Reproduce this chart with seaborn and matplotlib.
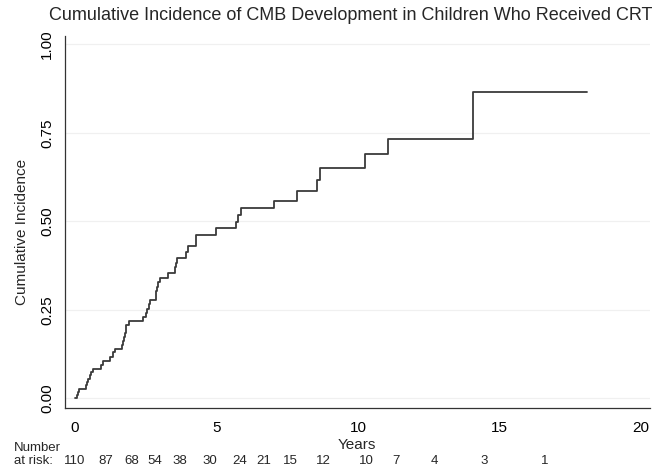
import matplotlib
matplotlib.use('Agg')
import matplotlib.pyplot as plt
import matplotlib.transforms as mtransforms
import numpy as np
import pandas as pd
import seaborn as sns

# event times (years) and cumulative incidence after each step
years = [0.0, 0.06, 0.10, 0.13, 0.39, 0.42, 0.47, 0.52, 0.58, 0.65, 0.92, 0.99,
         1.24, 1.35, 1.40, 1.65, 1.68, 1.72, 1.76, 1.79, 1.82, 1.92, 2.41, 2.50,
         2.55, 2.60, 2.64, 2.86, 2.88, 2.91, 2.95, 3.00, 3.30, 3.53, 3.56, 3.59,
         3.94, 4.00, 4.27, 4.98, 5.69, 5.77, 5.85, 7.05, 7.83, 8.56, 8.66, 10.25,
         11.07, 14.07, 18.08]
incidence = [0.0, 0.009, 0.018, 0.027, 0.036, 0.045, 0.055, 0.064, 0.073, 0.083, 0.093, 0.104,
             0.116, 0.129, 0.139, 0.150, 0.161, 0.172, 0.183, 0.195, 0.206, 0.217, 0.229, 0.241,
             0.253, 0.265, 0.277, 0.290, 0.302, 0.314, 0.327, 0.340, 0.355, 0.370, 0.383, 0.397,
             0.413, 0.429, 0.461, 0.480, 0.499, 0.518, 0.537, 0.557, 0.587, 0.618, 0.650, 0.689,
             0.734, 0.866, 0.866]

# number at risk table
risk_times = [0, 1.1, 2.0, 2.83, 3.7, 4.77, 5.83, 6.68, 7.6, 8.77, 10.3, 11.34, 12.7, 14.45, 16.6]
risk_counts = [110, 87, 68, 54, 38, 30, 24, 21, 15, 12, 10, 7, 4, 3, 1]

x_ticks = [0, 5, 10, 15, 20]
y_ticks = [0.0, 0.25, 0.5, 0.75, 1.0]

df = pd.DataFrame({'years': years, 'incidence': incidence})

sns.set_style('white')
plt.rcParams['font.family'] = ['Liberation Sans', 'DejaVu Sans']
narrow = ['Liberation Sans Narrow', 'Liberation Sans']

W, H = 665, 467
fig = plt.figure(figsize=(W / 100, H / 100), dpi=100, facecolor='white')
ax = fig.add_axes([65 / W, 1 - 408 / H, (650 - 65) / W, (408 - 36) / H])

sns.lineplot(data=df, x='years', y='incidence', estimator=None, drawstyle='steps-post',
             color='#3a3a3a', linewidth=1.3, ax=ax)

ax.set_xlim(-0.353, 20.32)
ax.set_ylim(-0.028, 1.024)
ax.set_xticks(x_ticks)
ax.set_yticks(y_ticks)
ax.set_xticklabels([str(t) for t in x_ticks], fontsize=11)
ax.set_yticklabels(['%.2f' % t for t in y_ticks], fontsize=11, rotation=90, va='center')
ax.set_xlabel('')
ax.set_ylabel('')

ax.yaxis.grid(True, color='#f0f0f0', linewidth=0.9)
ax.set_axisbelow(True)
for side in ['top', 'right']:
    ax.spines[side].set_visible(False)
for side in ['left', 'bottom']:
    ax.spines[side].set_color('#333333')
    ax.spines[side].set_linewidth(0.9)
ax.tick_params(axis='both', direction='out', length=5, width=0.9, color='#333333',
               labelcolor='black')
ax.tick_params(axis='x', pad=4)
ax.tick_params(axis='y', pad=3)

fig.text(351 / W, 1 - 16 / H, 'Cumulative Incidence of CMB Development in Children Who Received CRT',
         ha='center', va='center', fontsize=13)
fig.text(22 / W, 1 - 232 / H, 'Cumulative Incidence', rotation=90, ha='center', va='center',
         fontsize=11)
fig.text(357 / W, 1 - 445 / H, 'Years', ha='center', va='center', fontsize=11)

fig.text(14 / W, 1 - 448 / H, 'Number', ha='left', va='center', fontsize=9.5, family=narrow)
fig.text(14 / W, 1 - 461 / H, 'at risk:', ha='left', va='center', fontsize=9.5, family=narrow)
trans = mtransforms.blended_transform_factory(ax.transData, fig.transFigure)
for t, n in zip(risk_times, risk_counts):
    ax.text(t, 1 - 461 / H, str(n), transform=trans, ha='center', va='center',
            fontsize=9.5, family=narrow, clip_on=False)

fig.savefig('out.png', dpi=100, facecolor='white')
